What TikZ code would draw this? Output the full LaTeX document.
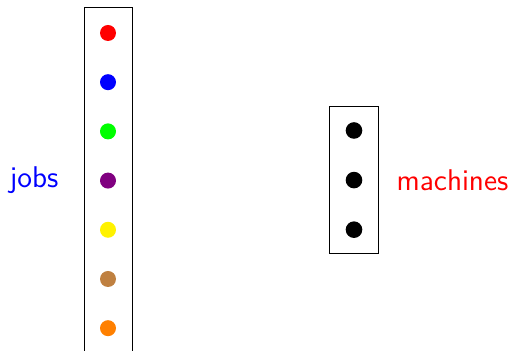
\documentclass[tikz,border=0pt]{standalone}
\begin{document}
\begin{tikzpicture}[x=0.5pt,y=-0.5pt,
  dotnode/.style={circle,inner sep=0pt,minimum size=8pt,fill=#1},
  lbl/.style={font=\sffamily\fontsize{15}{17}\selectfont,anchor=base,inner sep=0pt},
  box/.style={draw,line width=0.5pt}]
\useasboundingbox (0,0) rectangle (510,351);
\draw[box] (84,400) -- (84,8) -- (132,8) -- (132,400);
\clip (0,0) rectangle (510,351);
\foreach \c [count=\i] in {red,blue,green,violet,yellow,brown,orange}{
  \node[dotnode=\c] (j\i) at (108,{33+49.2*(\i-1)}) {};
}
\node[box,minimum width=24.5pt,minimum height=73.5pt,inner sep=0pt] (mbox) at (353.75,180.5) {};
\foreach \i in {1,2,3}{
  \node[dotnode=black,minimum size=8.3pt] (m\i) at (354,{130.5+49.6*(\i-1)}) {};
}
\node[lbl,text=blue] (jobs) at (34,188) {jobs};
\node[lbl,text=red] (machines) at (452.5,191) {machines};
\end{tikzpicture}
\end{document}
